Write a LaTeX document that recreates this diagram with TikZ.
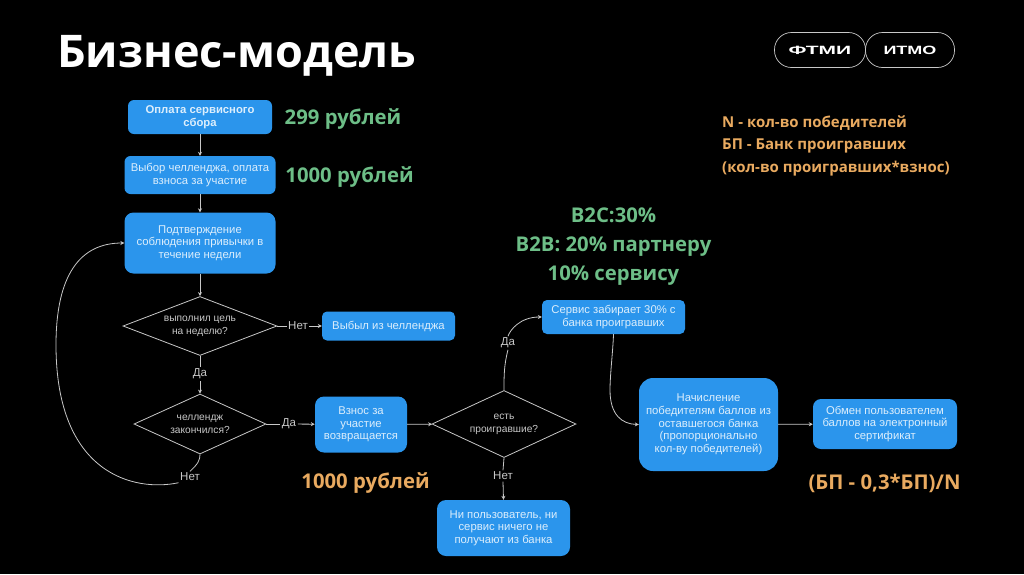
\documentclass[tikz,border=0pt]{standalone}
\usepackage{fontspec}
\setmainfont{Liberation Sans}
\newfontfamily\headfont{Open Sans}
\usetikzlibrary{shapes.geometric,arrows.meta}
\definecolor{boxblue}{HTML}{2B95EC}
\definecolor{boxtext}{HTML}{DCEEFC}
\definecolor{dgreen}{HTML}{6DBE87}
\definecolor{dorange}{HTML}{E9AA60}
\definecolor{lineg}{HTML}{C8C8C8}
\tikzset{
  flowbox/.style={fill=boxblue,rounded corners=#1,text=boxtext,align=center,inner sep=0pt,font=\fontsize{11.3}{12.7}\selectfont},
  flowbox/.default=6pt,
  dia/.style={shape=diamond,draw=lineg,line width=0.8pt,text=lineg,align=center,inner sep=0pt,font=\fontsize{10.2}{12.7}\selectfont},
  lab/.style={text=lineg,inner sep=1.5pt,font=\fontsize{11.5}{12}\selectfont},
  head/.style={inner sep=0pt,align=center,font=\headfont\bfseries\fontsize{20.3}{28.5}\selectfont},
  logo/.style={draw=lineg,line width=0.7pt,rounded corners=17pt,text=white,inner sep=0pt,minimum height=35pt},
  conn/.style={draw=lineg,line width=0.8pt},
  arr/.style={conn,-{Stealth[length=4pt,width=4pt]}}
}
\begin{document}
\begin{tikzpicture}[x=1pt,y=-1pt]
\fill[black] (0,0) rectangle (1024,574);
\useasboundingbox (0,0) rectangle (1024,574);
% title and logos
\node[anchor=west,inner sep=0pt,text=white,font=\headfont\bfseries\fontsize{45}{50}\selectfont] (title) at (57,55.5) {Бизнес-модель};
\node[logo,minimum width=91pt] (lg1) at (820,50) {\scalebox{1.75}[1]{\fontsize{12}{13}\bfseries\selectfont ФТМИ}};
\node[logo,minimum width=89pt] (lg2) at (910,50) {\scalebox{1.5}[1]{\fontsize{12}{13}\bfseries\selectfont ИТМО}};
% boxes
\node[flowbox,minimum width=144pt,minimum height=34pt,font=\fontsize{11.3}{12.7}\bfseries\selectfont] (b1) at (200,117) {Оплата сервисного\\сбора};
\node[flowbox,minimum width=151pt,minimum height=38pt] (b2) at (200,175) {Выбор челленджа, оплата\\взноса за участие};
\node[flowbox=9pt,minimum width=151pt,minimum height=61pt] (b3) at (200,243) {Подтверждение\\соблюдения привычки в\\течение недели};
\node[dia,minimum width=154pt,minimum height=59pt,shape aspect=2.6] (d1) at (200,326) {выполнил цель\\на неделю?};
\node[flowbox=5pt,minimum width=133pt,minimum height=29pt] (out) at (388.5,326) {Выбыл из челленджа};
\node[dia,minimum width=132pt,minimum height=60pt,shape aspect=2.2] (d2) at (200,424) {челлендж\\закончился?};
\node[flowbox=9pt,minimum width=92pt,minimum height=56pt] (ret) at (361,424.5) {Взнос за\\участие\\возвращается};
\node[dia,minimum width=144pt,minimum height=67pt,shape aspect=2.15] (d3) at (504,424) {есть\\проигравшие?};
\node[flowbox=9pt,minimum width=133pt,minimum height=56pt] (none) at (503.5,528) {Ни пользователь, ни\\сервис ничего не\\получают из банка};
\node[flowbox=5pt,minimum width=143pt,minimum height=34pt] (svc) at (613.5,317) {Сервис забирает 30\% с\\банка проигравших};
\node[flowbox=14pt,minimum width=139pt,minimum height=93pt] (acc) at (708.5,424.5) {Начисление\\победителям баллов из\\оставшегося банка\\(пропорционально\\кол-ву победителей)};
\node[flowbox=8pt,minimum width=144pt,minimum height=50pt] (exch) at (885,424) {Обмен пользователем\\баллов на электронный\\сертификат};
% connector labels
\node[lab] (l1) at (298,326) {Нет};
\node[lab] (l2) at (200,374) {Да};
\node[lab] (l3) at (289,424) {Да};
\node[lab] (l4) at (190,477) {Нет};
\node[lab] (l5) at (508,343) {Да};
\node[lab] (l6) at (503,476) {Нет};
% connectors
\draw[arr] (b1) -- (b2);
\draw[arr] (b2) -- (b3);
\draw[arr] (b3) -- (d1);
\draw[conn] (d1) -- (l1);
\draw[arr] (l1) -- (out);
\draw[conn] (d1) -- (l2);
\draw[arr] (l2) -- (d2);
\draw[conn] (d2) -- (l3);
\draw[arr] (l3) -- (ret);
\draw[arr] (ret) -- (d3);
\draw[conn] (d2.south) .. controls (200,460) and (198,464) .. (l4.north);
\draw[arr] (l4.south west) .. controls (135,492) and (56,475) .. (56,345) .. controls (56,275) and (80,243) .. (b3.west);
\draw[conn] (d3.north) .. controls (504,375) and (504,365) .. (l5.south);
\draw[arr] (l5.north) .. controls (510,330) and (520,317) .. (svc.west);
\draw[conn] (d3.south) -- (l6.north);
\draw[arr] (l6.south) -- (none.north);
\draw[arr] (svc.south) .. controls (613,350) and (610,375) .. (610,390) .. controls (610,415) and (622,424) .. (acc.west);
\draw[arr] (acc) -- (exch);
% annotations
\node[head,text=dgreen] (t1) at (343,119.5) {299 рублей};
\node[head,text=dgreen] (t2) at (349.5,177.5) {1000 рублей};
\node[head,text=dgreen,font=\headfont\bfseries\fontsize{20.3}{28.8}\selectfont] (t3) at (613.5,246.5) {B2C:30\%\\B2B: 20\% партнеру\\10\% сервису};
\node[head,text=dorange] (t4) at (365.5,483) {1000 рублей};
\node[head,text=dorange] (t5) at (884.5,483) {(БП - 0,3*БП)/N};
\node[anchor=north west,inner sep=0pt,align=left,text=dorange,font=\headfont\bfseries\fontsize{15}{22.3}\selectfont] (t6) at (722,115.5) {N - кол-во победителей\\БП - Банк проигравших\\(кол-во проигравших*взнос)};
\end{tikzpicture}
\end{document}
